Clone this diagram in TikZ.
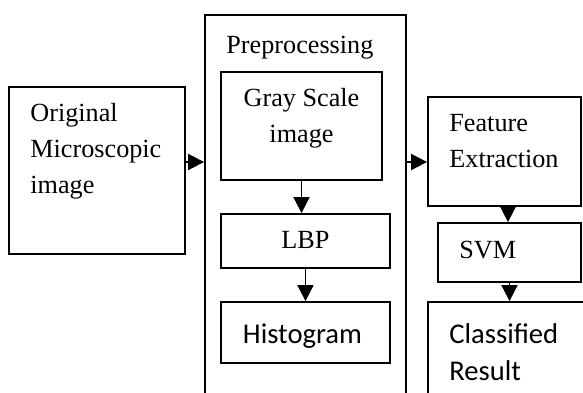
\documentclass[tikz,border=0pt]{standalone}
\usepackage{fontspec}
\setmainfont{Liberation Serif}
\newfontfamily\calibrifont{Carlito}
\usepackage{tikz}
\usetikzlibrary{calc}
\usetikzlibrary{positioning}
\usetikzlibrary{arrows.meta}

\tikzset{
	box/.style={draw, line width=0.9pt, inner sep=0pt},
	arr/.style={line width=0.9pt, -{Triangle[length=8pt,width=8pt]}},
	serif/.style={inner sep=0pt, font=\fontsize{13.1}{17.8}\selectfont},
	sans/.style={inner sep=0pt, font=\calibrifont\fontsize{14.3}{18.5}\selectfont}
}

\begin{document}
\begin{tikzpicture}[x=0.5pt, y=-0.5pt]
				\useasboundingbox (0,0) rectangle (583,392);
				\clip (0,0) rectangle (583,392);
				
				\node[box, minimum width=88pt, minimum height=83.5pt] (orig) at (97,170.5) {};
				\node[box, minimum width=100.5pt, minimum height=207.5pt] (pre) at (305.5,222.5) {};
				\node[box, minimum width=80.5pt, minimum height=54pt] (gray) at (301.5,126) {};
				\node[box, minimum width=84.5pt, minimum height=27pt] (lbp) at (305.5,241) {};
				\node[box, minimum width=84.5pt, minimum height=30.5pt] (hist) at (305.5,332.5) {};
				\node[box, minimum width=76.5pt, minimum height=54.5pt] (feat) at (504.5,151.5) {};
				\node[box, minimum width=71.5pt, minimum height=29.5pt] (svm) at (509.5,252.5) {};
				\node[box, minimum width=96pt, minimum height=64pt] (res) at (524,366) {};
				
				% multi-line texts sit on the baseline of their last line
				\node[serif, anchor=base west, align=left] (origtext) at (30,193) {Original\\Microscopic\\image};
				\node[serif, anchor=base west] (pretext) at (226,53) {Preprocessing};
				\node[serif, anchor=base, align=center] (graytext) at (301.5,142) {Gray Scale\\image};
				\node[serif, anchor=base] (lbptext) at (305.5,248) {LBP};
				\node[sans, anchor=base] (histtext) at (302.5,343) {Histogram};
				\node[serif, anchor=base west, align=left] (feattext) at (449,167) {Feature\\Extraction};
				\node[serif, anchor=base west] (svmtext) at (459,258) {SVM};
				\node[sans, anchor=base west, align=left] (restext) at (449,380) {Classified\\Result};
				
				\draw[arr] ([yshift=4.25pt]orig.east) -- ([yshift=4.25pt]orig.east -| pre.west);
				\draw[arr] (gray.south) -- (gray.south |- lbp.north);
				\draw[arr] (lbp.south) -- (hist.north);
				\draw[arr] ([yshift=-5.25pt]feat.west -| pre.east) -- ([yshift=-5.25pt]feat.west);
				\draw[arr] ([xshift=1.75pt]feat.south) -- ([xshift=1.75pt]feat.south |- svm.north);
				\draw[arr] (svm.south) -- (svm.south |- res.north);
			\end{tikzpicture}
\end{document}
